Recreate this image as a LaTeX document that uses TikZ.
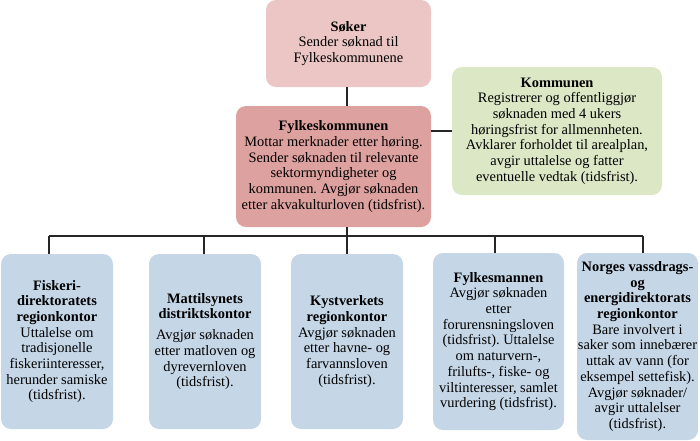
\documentclass[tikz,border=0pt]{standalone}
\usepackage{fontspec}
\setmainfont{Liberation Serif}
\frenchspacing
\definecolor{sokerfill}{RGB}{236,198,197}
\definecolor{fylkefill}{RGB}{221,161,159}
\definecolor{kommfill}{RGB}{220,231,198}
\definecolor{bluefill}{RGB}{197,214,231}
\tikzset{
  card/.style={rounded corners=10pt, inner sep=0pt, align=center,
    font=\fontsize{14.4}{15.7}\selectfont\frenchspacing, anchor=center},
  link/.style={draw=black!85, line width=1.3pt},
}
\begin{document}
\begin{tikzpicture}[x=1pt,y=-1pt]
\useasboundingbox (0,0) rectangle (700,440);

\node[card, fill=sokerfill, minimum width=165pt, minimum height=87pt] (soker) at (348.5,43.5)
  {\textbf{Søker}\\Sender søknad til\\Fylkeskommunene};

\node[card, fill=fylkefill, minimum width=195pt, minimum height=121pt] (fylke) at (333.5,166.5)
  {\textbf{Fylkeskommunen}\\Mottar merknader etter høring.\\Sender søknaden til relevante\\sektormyndigheter og\\kommunen. Avgjør søknaden\\etter akvakulturloven (tidsfrist).};

\node[card, fill=kommfill, minimum width=210pt, minimum height=128pt] (kommune) at (557,131)
  {\textbf{Kommunen}\\Registrerer og offentliggjør\\søknaden med 4 ukers\\høringsfrist for allmennheten.\\Avklarer forholdet til arealplan,\\avgir uttalelse og fatter\\eventuelle vedtak (tidsfrist).};

\node[card, fill=bluefill, minimum width=112pt, minimum height=175pt] (b1) at (57,341.5)
  {\textbf{Fiskeri-}\\\textbf{direktoratets}\\\textbf{regionkontor}\\Uttalelse om\\tradisjonelle\\fiskeriinteresser,\\herunder samiske\\(tidsfrist).};

\node[card, fill=bluefill, minimum width=112pt, minimum height=175pt] (b2) at (205,341.5)
  {\textbf{Mattilsynets}\\\textbf{distriktskontor}\\[5pt]Avgjør søknaden\\etter matloven og\\dyrevernloven\\(tidsfrist).};

\node[card, fill=bluefill, minimum width=112pt, minimum height=175pt] (b3) at (347,341.5)
  {\textbf{Kystverkets}\\\textbf{regionkontor}\\Avgjør søknaden\\etter havne- og\\farvannsloven\\(tidsfrist).};

\node[card, fill=bluefill, minimum width=131pt, minimum height=177pt] (b4) at (498.5,341.5)
  {\textbf{Fylkesmannen}\\Avgjør søknaden\\etter\\forurensningsloven\\(tidsfrist). Uttalelse\\om naturvern-,\\frilufts-, fiske- og\\viltinteresser, samlet\\vurdering (tidsfrist).};

\node[card, fill=bluefill, minimum width=121pt, minimum height=187pt] (b5) at (637.5,346.5)
  {\textbf{Norges vassdrags-}\\\textbf{og}\\\textbf{energidirektorats}\\\textbf{regionkontor}\\Bare involvert i\\saker som innebærer\\uttak av vann (for\\eksempel settefisk).\\Avgjør søknader/\\avgir uttalelser\\(tidsfrist).};

\coordinate (spine) at (347,236);
\coordinate (j1) at (49,236);
\coordinate (j2) at (204,236);
\coordinate (j4) at (495,236);
\coordinate (j5) at (643,236);

\draw[link] (soker.south -| spine) -- (fylke.north -| spine);
\draw[link] (fylke.east |- kommune.west) -- (kommune.west);
\draw[link] (fylke.south -| spine) -- (spine);
\draw[link] (j1) -- (j5);
\draw[link] (j1) -- (j1 |- b1.north);
\draw[link] (j2) -- (j2 |- b2.north);
\draw[link] (spine) -- (spine |- b3.north);
\draw[link] (j4) -- (j4 |- b4.north);
\draw[link] (j5) -- (j5 |- b5.north);
\end{tikzpicture}
\end{document}
